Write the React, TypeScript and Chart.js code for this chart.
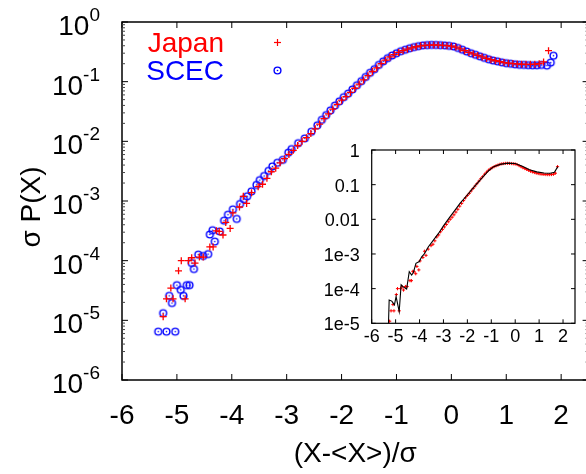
import React, { useEffect, useRef } from "react";
import { Chart, registerables } from "chart.js";
Chart.register(...registerables);

// ---------- data ----------
const japanX = [
  -5.25, -5.19, -5.11, -5.07, -4.97, -4.92, -4.85, -4.79, -4.73, -4.67, -4.59, -4.52, -4.4, -4.34, -4.28, -4.23,
  -4.16, -4.11, -4.03, -3.98, -3.86, -3.79, -3.73, -3.64, -3.52,
  -3.44, -3.36, -3.28, -3.2, -3.12, -3.04, -2.96, -2.88, -2.8, -2.72, -2.64, -2.56, -2.48, -2.4, -2.32, -2.24,
  -2.16, -2.08, -2.0, -1.92, -1.84, -1.76, -1.68, -1.6, -1.52, -1.44, -1.36, -1.28, -1.2, -1.12, -1.04, -0.96,
  -0.88, -0.8, -0.72, -0.64, -0.56, -0.48, -0.4, -0.32, -0.24, -0.16, -0.08, 0.0, 0.08, 0.16, 0.24, 0.32, 0.4,
  0.48, 0.56, 0.64, 0.72, 0.8, 0.88, 0.96, 1.04, 1.12, 1.2, 1.28, 1.36, 1.44, 1.52, 1.6, 1.68, 1.77,
];
const japanY = [
  1.15e-5, 2.29e-5, 3.47e-5, 2.29e-5, 6.76e-5, 1.0e-4, 2.29e-5, 1.0e-4, 1.12e-4, 9.12e-5, 1.15e-4, 1.15e-4,
  1.7e-4, 1.7e-4, 3.16e-4, 3.09e-4, 2.69e-4, 4.37e-4, 3.47e-4, 6.31e-4, 7.94e-4, 1.2e-3, 9.12e-4, 1.38e-3, 1.74e-3,
  1.91e-3, 2.4e-3, 3.09e-3, 3.55e-3, 4.37e-3, 5.13e-3, 6.03e-3, 7.08e-3, 8.51e-3, 0.01, 0.0115, 0.0135, 0.0162,
  0.0195, 0.024, 0.0288, 0.0347, 0.0417, 0.049, 0.0562, 0.0661, 0.0776, 0.0912, 0.107, 0.126, 0.148, 0.17, 0.2,
  0.229, 0.26, 0.285, 0.309, 0.331, 0.351, 0.367, 0.385, 0.398, 0.407, 0.411, 0.412, 0.41, 0.407, 0.401, 0.394,
  0.38, 0.355, 0.331, 0.309, 0.292, 0.275, 0.26, 0.245, 0.234, 0.224, 0.216, 0.209, 0.204, 0.201, 0.198, 0.196,
  0.195, 0.195, 0.196, 0.2, 0.214, 0.331,
];

const scecX = [
  -5.34, -5.19, -5.03, -5.25, -5.14, -5.09, -5.0, -4.93, -4.88, -4.82, -4.77, -4.73, -4.69, -4.61, -4.52, -4.43,
  -4.4, -4.35, -4.31, -4.22, -4.14, -4.07, -3.98, -3.91, -3.85, -3.78, -3.72, -3.64, -3.55, -3.49, -3.41, -3.33,
  -3.26, -3.17, -3.07, -2.97, -2.91, -2.79, -2.67, -2.55, -2.44,
  -2.36, -2.28, -2.2, -2.12, -2.04, -1.96, -1.88, -1.8, -1.72, -1.64, -1.56, -1.48, -1.4, -1.32, -1.24, -1.16,
  -1.08, -1.0, -0.92, -0.84, -0.76, -0.68, -0.6, -0.52, -0.44, -0.36, -0.28, -0.2, -0.12, -0.04, 0.04, 0.12, 0.2,
  0.28, 0.36, 0.44, 0.52, 0.6, 0.68, 0.76, 0.84, 0.92, 1.0, 1.08, 1.16, 1.24, 1.32, 1.4, 1.48, 1.56, 1.64, 1.74,
  1.81, 1.86,
];
const scecY = [
  6.46e-6, 6.46e-6, 6.46e-6, 1.32e-5, 2.57e-5, 1.95e-5, 3.89e-5, 3.24e-5, 2.57e-5, 3.89e-5, 3.89e-5, 9.12e-5,
  7.24e-5, 1.26e-4, 1.2e-4, 1.29e-4, 2.75e-4, 3.24e-4, 2.09e-4, 3.09e-4, 4.68e-4, 5.89e-4, 7.24e-4, 5.01e-4,
  8.91e-4, 1.07e-3, 1.2e-3, 1.45e-3, 1.86e-3, 2.24e-3, 2.63e-3, 3.2e-3, 3.8e-3, 4.37e-3, 4.9e-3, 6.46e-3, 7.41e-3,
  9.33e-3, 0.0112, 0.0145, 0.0186,
  0.0229, 0.0275, 0.0331, 0.0398, 0.0468, 0.055, 0.0631, 0.0741, 0.0871, 0.102, 0.12, 0.141, 0.162, 0.191, 0.219,
  0.248, 0.275, 0.299, 0.324, 0.343, 0.363, 0.38, 0.394, 0.405, 0.41, 0.413, 0.412, 0.409, 0.405, 0.398, 0.389,
  0.367, 0.343, 0.32, 0.299, 0.282, 0.266, 0.251, 0.237, 0.226, 0.219, 0.211, 0.204, 0.2, 0.195, 0.192, 0.191,
  0.189, 0.188, 0.188, 0.191, 0.186, 0.209, 0.272,
];

// black curve of the inset
const insetLineX = [
  -5.31, -5.27, -5.16, -5.05, -4.98, -4.85, -4.77, -4.68, -4.54, -4.43, -4.33, -4.26, -4.15, -4.01, -3.91, -3.8,
  -3.63, -3.42, -3.2, -3.0, -2.72, -2.5, -2.31, -2.03, -1.8, -1.6, -1.33, -1.1, -0.9, -0.63, -0.3, 0.0, 0.3, 0.6,
  0.9, 1.2, 1.46, 1.64, 1.78,
];
const insetLineY = [
  5.0e-6, 4.68e-5, 4.37e-5, 3.39e-5, 5.89e-5, 2.19e-5, 1.29e-4, 1.12e-4, 9.77e-5, 3.09e-4, 2.45e-4, 2.88e-4,
  5.37e-4, 6.03e-4, 8.32e-4, 1.0e-3, 1.62e-3, 2.51e-3, 3.98e-3, 6.46e-3, 0.012, 0.0191, 0.0288, 0.0479, 0.0741,
  0.107, 0.174, 0.257, 0.331, 0.385, 0.417, 0.407, 0.339, 0.269, 0.234, 0.216, 0.214, 0.229, 0.331,
];

const xTickValues = [-6, -5, -4, -3, -2, -1, 0, 1, 2];
const xTickLabels = ["-6", "-5", "-4", "-3", "-2", "-1", "0", "1", "2"];
const yDecadeExponents = [0, -1, -2, -3, -4, -5, -6];
const insetYTickValues = [1, 0.1, 0.01, 1e-3, 1e-4, 1e-5];
const insetYTickLabels = ["1", "0.1", "0.01", "1e-3", "1e-4", "1e-5"];

const FONT = '"Liberation Sans", Arial, Helvetica, sans-serif';
const RED = "#ff0000";
const BLUE = "#0000ff";

function makeCircle(color: string): HTMLCanvasElement {
  const size = 11;
  const c = document.createElement("canvas");
  c.width = size;
  c.height = size;
  const g = c.getContext("2d")!;
  g.strokeStyle = color;
  g.lineWidth = 1.4;
  g.beginPath();
  g.arc(size / 2, size / 2, 3.4, 0, Math.PI * 2);
  g.stroke();
  g.fillStyle = color;
  g.beginPath();
  g.arc(size / 2, size / 2, 0.8, 0, Math.PI * 2);
  g.fill();
  return c;
}

function line(ctx: CanvasRenderingContext2D, x1: number, y1: number, x2: number, y2: number) {
  ctx.beginPath();
  ctx.moveTo(x1, y1);
  ctx.lineTo(x2, y2);
  ctx.stroke();
}

export default function App() {
  const mainRef = useRef<HTMLCanvasElement>(null);
  const insetRef = useRef<HTMLCanvasElement>(null);

  useEffect(() => {
    const circleImg = makeCircle(BLUE);
    const MAIN_W = 620;
    const MAIN_H = 474;

    const mainDeco = {
      id: "mainDeco",
      afterDatasetsDraw(chart: any) {
        const ctx: CanvasRenderingContext2D = chart.ctx;
        const { left, right, top, bottom } = chart.chartArea;
        const xs = chart.scales.x;
        const ys = chart.scales.y;
        ctx.save();
        ctx.strokeStyle = "#000";
        ctx.lineWidth = 1.5;
        ctx.strokeRect(left, top, right - left, bottom - top);
        ctx.lineWidth = 1;
        for (const t of xTickValues) {
          const px = xs.getPixelForValue(t);
          line(ctx, px, bottom, px, bottom - 6);
          line(ctx, px, top, px, top + 6);
        }
        for (const e of yDecadeExponents) {
          const py = ys.getPixelForValue(Math.pow(10, e));
          line(ctx, left, py, left + 6, py);
          line(ctx, right, py, right - 6, py);
          if (e < 0) {
            ctx.strokeStyle = "#444";
            for (let m = 2; m <= 9; m++) {
              const pm = ys.getPixelForValue(m * Math.pow(10, e));
              line(ctx, left, pm, left + 3, pm);
              line(ctx, right, pm, right - 3, pm);
            }
            ctx.strokeStyle = "#000";
          }
        }
        // x tick labels
        ctx.fillStyle = "#000";
        ctx.font = `28px ${FONT}`;
        ctx.textAlign = "center";
        ctx.textBaseline = "alphabetic";
        xTickValues.forEach((t, i) => {
          ctx.fillText(xTickLabels[i], xs.getPixelForValue(t), bottom + 44);
        });
        // y tick labels 10^e
        for (const e of yDecadeExponents) {
          const py = ys.getPixelForValue(Math.pow(10, e));
          const exp = String(e);
          ctx.font = `19px ${FONT}`;
          const ew = ctx.measureText(exp).width;
          const rx = 100;
          ctx.textAlign = "left";
          ctx.fillText(exp, rx - ew, py - 1);
          ctx.font = `28px ${FONT}`;
          ctx.textAlign = "right";
          ctx.fillText("10", rx - ew, py + 13);
        }
        // axis titles
        ctx.font = `28px ${FONT}`;
        ctx.textAlign = "center";
        ctx.fillText("(X-<X>)/σ", (left + right) / 2, 462);
        ctx.save();
        ctx.translate(40, 207);
        ctx.rotate(-Math.PI / 2);
        ctx.fillText("σ P(X)", 0, 0);
        ctx.restore();
        // legend
        ctx.textAlign = "right";
        ctx.fillStyle = RED;
        ctx.fillText("Japan", 224, 52);
        ctx.fillStyle = BLUE;
        ctx.fillText("SCEC", 224, 80);
        ctx.strokeStyle = RED;
        ctx.lineWidth = 1.2;
        line(ctx, 277.5 - 3.5, 42.5, 277.5 + 3.5, 42.5);
        line(ctx, 277.5, 42.5 - 3.5, 277.5, 42.5 + 3.5);
        ctx.drawImage(circleImg, 277.5 - 5.5, 70.5 - 5.5);
        ctx.restore();
      },
    };

    const main = new Chart(mainRef.current!, {
      type: "scatter",
      data: {
        datasets: [
          {
            label: "Japan",
            data: japanX.map((x, i) => ({ x, y: japanY[i] })),
            pointStyle: "cross",
            pointRadius: 3.5,
            pointBorderColor: RED,
            pointBackgroundColor: RED,
            pointBorderWidth: 1.3,
            borderColor: RED,
            backgroundColor: RED,
          },
          {
            label: "SCEC",
            data: scecX.map((x, i) => ({ x, y: scecY[i] })),
            pointStyle: circleImg as any,
            pointRadius: 4,
            pointBorderColor: BLUE,
            pointBackgroundColor: BLUE,
            borderColor: BLUE,
            backgroundColor: BLUE,
          },
        ],
      },
      options: {
        animation: false,
        responsive: false,
        maintainAspectRatio: false,
        events: [],
        layout: { padding: { left: 122, top: 22, right: MAIN_W - 588.6, bottom: MAIN_H - 380 } },
        plugins: { legend: { display: false }, tooltip: { enabled: false } },
        scales: {
          x: { type: "linear", min: -6, max: 2.5, display: false },
          y: { type: "logarithmic", min: 1e-6, max: 1, display: false },
        },
      },
      plugins: [mainDeco],
    });

    const insetDeco = {
      id: "insetDeco",
      beforeDatasetsDraw(chart: any) {
        const ctx: CanvasRenderingContext2D = chart.ctx;
        const { left, right, top, bottom } = chart.chartArea;
        ctx.save();
        ctx.fillStyle = "#fff";
        ctx.fillRect(left, top, right - left, bottom - top);
        ctx.restore();
      },
      afterDatasetsDraw(chart: any) {
        const ctx: CanvasRenderingContext2D = chart.ctx;
        const { left, right, top, bottom } = chart.chartArea;
        const xs = chart.scales.x;
        const ys = chart.scales.y;
        ctx.save();
        ctx.strokeStyle = "#000";
        ctx.lineWidth = 1.2;
        ctx.strokeRect(left, top, right - left, bottom - top);
        ctx.lineWidth = 1;
        for (const t of xTickValues) {
          const px = xs.getPixelForValue(t);
          line(ctx, px, bottom, px, bottom - 4);
          line(ctx, px, top, px, top + 4);
        }
        for (const v of insetYTickValues) {
          const py = ys.getPixelForValue(v);
          line(ctx, left, py, left + 4, py);
          line(ctx, right, py, right - 4, py);
        }
        ctx.fillStyle = "#000";
        ctx.font = `18px ${FONT}`;
        ctx.textBaseline = "alphabetic";
        ctx.textAlign = "right";
        insetYTickValues.forEach((v, i) => {
          ctx.fillText(insetYTickLabels[i], left - 12, ys.getPixelForValue(v) + 7);
        });
        ctx.textAlign = "center";
        xTickValues.forEach((t, i) => {
          ctx.fillText(xTickLabels[i], xs.getPixelForValue(t), bottom + 19);
        });
        ctx.restore();
      },
    };

    const IN_W = 286;
    const IN_H = 230;
    const inset = new Chart(insetRef.current!, {
      type: "scatter",
      data: {
        datasets: [
          {
            label: "curve",
            data: insetLineX.map((x, i) => ({ x, y: insetLineY[i] })),
            showLine: true,
            pointRadius: 0,
            borderColor: "#000",
            borderWidth: 1.1,
            tension: 0,
          },
          {
            label: "Japan",
            data: japanX.map((x, i) => ({ x, y: japanY[i] })),
            pointStyle: "cross",
            pointRadius: 1.6,
            pointBorderColor: RED,
            pointBorderWidth: 1,
            borderColor: RED,
            backgroundColor: RED,
          },
        ],
      },
      options: {
        animation: false,
        responsive: false,
        maintainAspectRatio: false,
        events: [],
        layout: { padding: { left: 71.7, top: 20, right: IN_W - 275, bottom: IN_H - 193.3 } },
        plugins: { legend: { display: false }, tooltip: { enabled: false } },
        scales: {
          x: { type: "linear", min: -6, max: 2.5, display: false },
          y: { type: "logarithmic", min: 1e-5, max: 1, display: false },
        },
      },
      plugins: [insetDeco],
    });

    return () => {
      main.destroy();
      inset.destroy();
    };
  }, []);

  return (
    <div
      style={{
        position: "fixed",
        left: 0,
        top: 0,
        width: 586,
        height: 474,
        overflow: "hidden",
        background: "#fff",
      }}
    >
      <canvas
        ref={mainRef}
        width={620}
        height={474}
        style={{ position: "absolute", left: 0, top: 0, width: 620, height: 474, display: "block" }}
      />
      <canvas
        ref={insetRef}
        width={286}
        height={230}
        style={{ position: "absolute", left: 300, top: 130, width: 286, height: 230, display: "block" }}
      />
    </div>
  );
}
